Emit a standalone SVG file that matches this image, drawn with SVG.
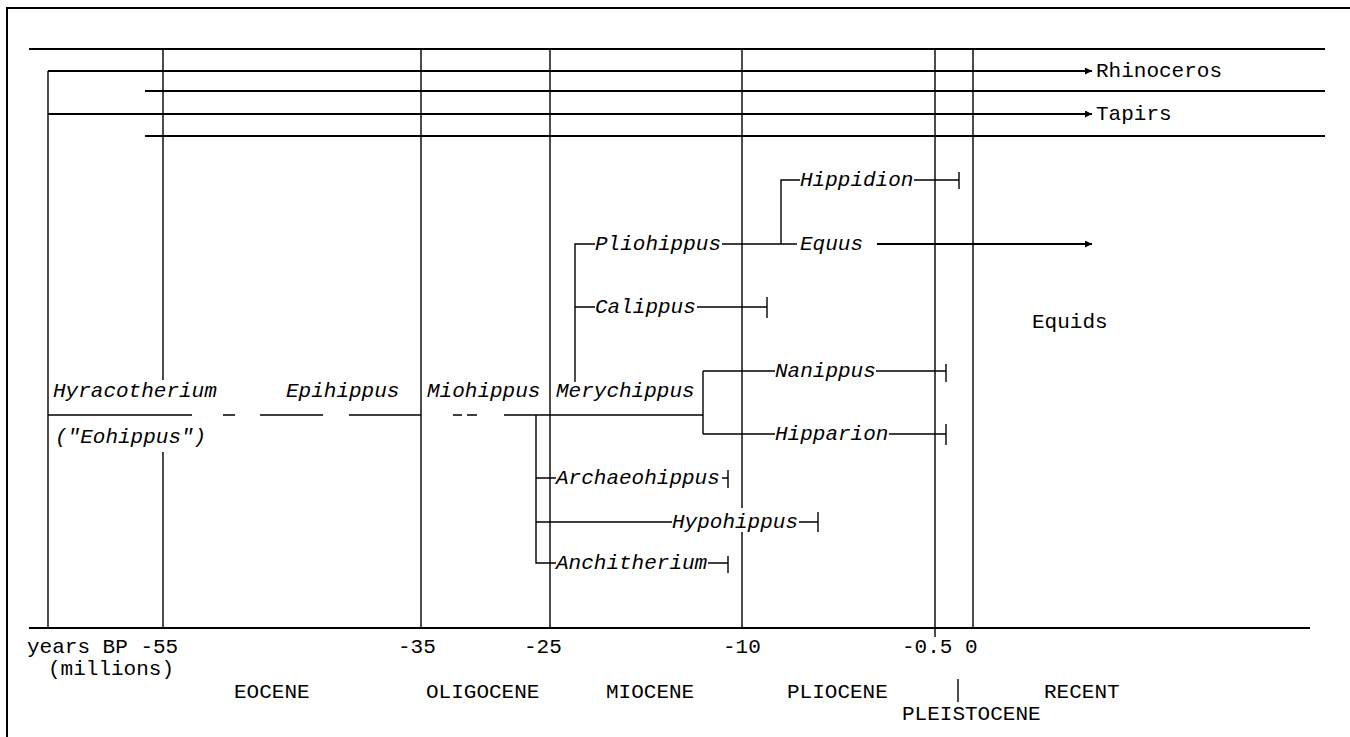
<svg xmlns="http://www.w3.org/2000/svg" width="1350" height="737" viewBox="0 0 1350 737">
<defs>
<style>
.ln{stroke:#000;stroke-width:1.4;fill:none}
.th{stroke:#000;stroke-width:2;fill:none}
.tx{font-family:"Courier New","Liberation Mono",monospace;font-size:21px;fill:#000}
.it{font-style:italic}
</style>
<marker id="ah" viewBox="0 0 10 10" refX="10" refY="5" markerWidth="9" markerHeight="7" markerUnits="userSpaceOnUse" orient="auto"><path d="M0,0 L10,5 L0,10 z" fill="#000"/></marker>
</defs>
<rect width="1350" height="737" fill="#fff"/>
<g id="frame">
<path class="th" d="M7,737 V8 H1350"/>
</g>
<g id="grid">
<path class="th" d="M29,49 H1325 M145,91 H1325 M145,136 H1325"/>
<path class="th" d="M29,628 H1310"/>
<path class="ln" d="M48,71 V628"/>
<path class="ln" d="M163,49 V380 M163,452 V628"/>
<path class="ln" d="M421,49 V628 M550,49 V628"/>
<path class="ln" d="M742,49 V508 M742,532 V628"/>
<path class="ln" d="M935,49 V637 M973,49 V628"/>
</g>
<g id="connectors">
<path class="th" d="M48,71 H1092" marker-end="url(#ah)"/>
<path class="th" d="M48,114 H1092" marker-end="url(#ah)"/>
<path class="ln" d="M48,415 H192 M223,415 H235 M260,415 H323 M349,415 H421 M453,415 H462 M467,415 H477 M504,415 H703"/>
<path class="ln" d="M703,371 V434 M703,371 H775 M876,371 H946 M946,364 V382 M703,434 H775 M889,434 H946 M946,424 V445"/>
<path class="ln" d="M575,382 V244 H595 M722,244 H797 M781,244 V180 H800 M914,180 H959 M959,172 V189"/>
<path class="th" d="M877,244 H1092" marker-end="url(#ah)"/>
<path class="ln" d="M575,307 H595 M697,307 H767 M767,297 V318"/>
<path class="ln" d="M536,415 V563 H556 M536,478 H556 M722,478 H728 M728,470 V488 M536,522 H672 M799,522 H818 M818,512 V532 M708,563 H728 M728,556 V573"/>
<path class="ln" d="M958,679 V702"/>
</g>
<g id="n-rhinoceros"><text class="tx" x="1096" y="77">Rhinoceros</text></g>
<g id="n-tapirs"><text class="tx" x="1096" y="120">Tapirs</text></g>
<g id="n-hyracotherium"><text class="tx it" x="53" y="397">Hyracotherium</text><text class="tx it" x="55" y="443">("Eohippus")</text></g>
<g id="n-epihippus"><text class="tx it" x="286" y="397">Epihippus</text></g>
<g id="n-miohippus"><text class="tx it" x="427" y="397">Miohippus</text></g>
<g id="n-merychippus"><text class="tx it" x="556" y="397">Merychippus</text></g>
<g id="n-pliohippus"><text class="tx it" x="595" y="250">Pliohippus</text></g>
<g id="n-hippidion"><text class="tx it" x="800" y="186">Hippidion</text></g>
<g id="n-equus"><text class="tx it" x="800" y="250">Equus</text></g>
<g id="n-calippus"><text class="tx it" x="595" y="313">Calippus</text></g>
<g id="n-nanippus"><text class="tx it" x="775" y="377">Nanippus</text></g>
<g id="n-hipparion"><text class="tx it" x="775" y="440">Hipparion</text></g>
<g id="n-archaeohippus"><text class="tx it" x="556" y="484">Archaeohippus</text></g>
<g id="n-hypohippus"><text class="tx it" x="672" y="528">Hypohippus</text></g>
<g id="n-anchitherium"><text class="tx it" x="556" y="569">Anchitherium</text></g>
<g id="n-equids"><text class="tx" x="1032" y="328">Equids</text></g>
<g id="axis">
<text class="tx" x="27" y="653">years BP -55</text>
<text class="tx" x="48" y="675">(millions)</text>
<text class="tx" x="398" y="653">-35</text>
<text class="tx" x="524" y="653">-25</text>
<text class="tx" x="723" y="653">-10</text>
<text class="tx" x="902" y="653">-0.5 0</text>
<text class="tx" x="234" y="698">EOCENE</text>
<text class="tx" x="426" y="698">OLIGOCENE</text>
<text class="tx" x="606" y="698">MIOCENE</text>
<text class="tx" x="787" y="698">PLIOCENE</text>
<text class="tx" x="1044" y="698">RECENT</text>
<text class="tx" x="902" y="720">PLEISTOCENE</text>
</g>
</svg>
